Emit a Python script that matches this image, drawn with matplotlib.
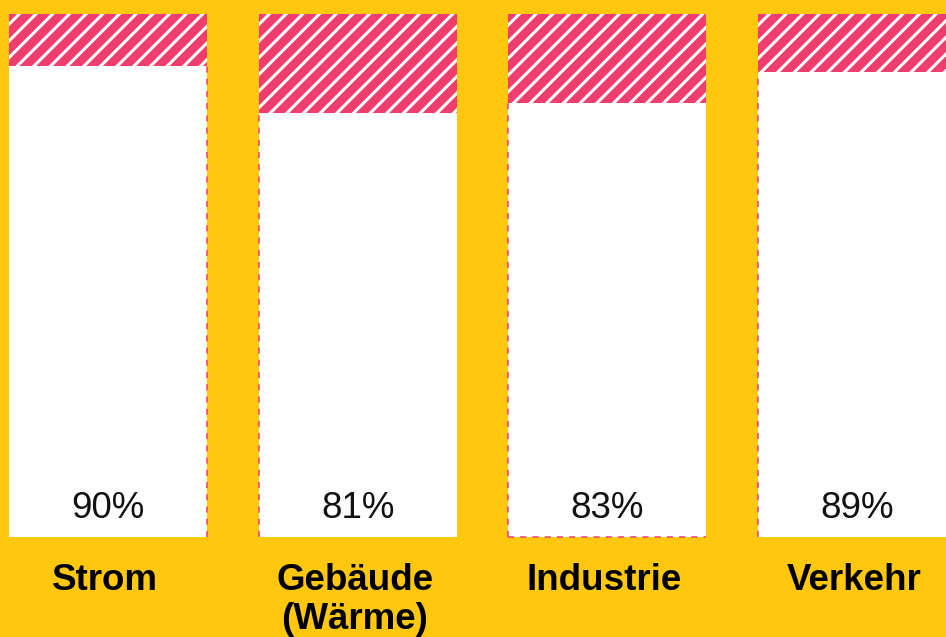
import matplotlib
matplotlib.use("Agg")
import matplotlib.pyplot as plt
import numpy as np

categories = ["Strom", "Gebäude\n(Wärme)", "Industrie", "Verkehr"]
share_values = [90, 81, 83, 89]
value_labels = ["90%", "81%", "83%", "89%"]
dashed_sides = [["right"], ["left"], ["left", "bottom"], ["left"]]

yellow = "#FFC70D"
red = "#EF3D6E"

plt.rcParams['font.family'] = ['Liberation Sans', 'DejaVu Sans']
plt.rcParams['hatch.color'] = 'white'
plt.rcParams['hatch.linewidth'] = 2.2

fig = plt.figure(figsize=(9.46, 6.37), dpi=100)
fig.patch.set_facecolor(yellow)
ax = fig.add_axes([0, 0, 1, 1])
ax.set_facecolor(yellow)

x = np.arange(len(categories))
w = 198 / 249.7
vals = np.array(share_values)

ax.bar(x, vals, width=w, color="white", linewidth=0, zorder=2)
ax.bar(x, 100 - vals, bottom=vals, width=w, color=red, edgecolor="white",
       linewidth=0, hatch="//", zorder=3)

dash = dict(color=red, linewidth=1.1, linestyle=(0, (4, 4)), zorder=4)
for xi, v, sides in zip(x, vals, dashed_sides):
    l, r = xi - w / 2, xi + w / 2
    if "left" in sides:
        ax.plot([l, l], [0, v], **dash)
    if "right" in sides:
        ax.plot([r, r], [0, v], **dash)
    if "bottom" in sides:
        ax.plot([l, r], [0, 0], **dash)

for xi, lab in zip(x, value_labels):
    ax.text(xi, 5.4, lab, ha="center", va="center", fontsize=26.5, color="#111111", zorder=5)

for xi, cat in zip(x, categories):
    ax.text(xi - 0.012, -4.9, cat, ha="center", va="top", fontsize=26.5,
            fontweight="bold", color="black", linespacing=1.15, zorder=5)

ax.set_xlim(-108 / 249.7, (946 - 108) / 249.7)
ax.set_ylim(-(637 - 537) / 5.23, 100 + 14 / 5.23)
ax.axis("off")

fig.savefig("out.png", dpi=100, facecolor=yellow)
